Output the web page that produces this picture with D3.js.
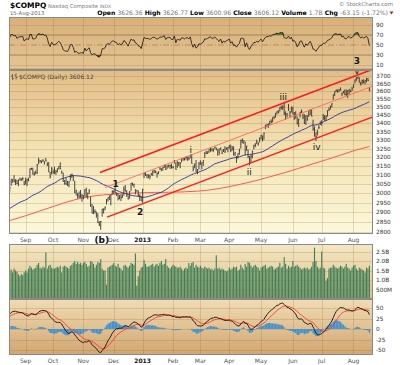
<!DOCTYPE html>
<html>
<head>
<meta charset="utf-8">
<script src="https://cdn.jsdelivr.net/npm/d3@7"></script>
<style>
body { margin: 0; background: #fff; }
svg { display: block; font-family: 'DejaVu Sans', Verdana, sans-serif; }
</style>
</head>
<body>
<svg id="chart" width="400" height="365"></svg>
<script>
// trading calendar 16-Aug-2012 .. 15-Aug-2013
var firstDay = '2012-08-16', lastDay = '2013-08-15';
var holidays = ['2012-09-03', '2012-10-29', '2012-10-30', '2012-11-22', '2012-12-25',
  '2013-01-01', '2013-01-21', '2013-02-18', '2013-03-29', '2013-05-27', '2013-07-04'];
var monthLabels = ['Sep', 'Oct', 'Nov', 'Dec', '2013', 'Feb', 'Mar', 'Apr', 'May', 'Jun', 'Jul', 'Aug'];

// Jun 1 - Aug 15 2012, only used so the indicators are warmed up
var preCloses = [2747, 2760, 2779, 2844, 2831, 2859, 2809, 2843, 2819, 2836, 2873, 2895, 2929, 2930, 2859, 2892, 2836, 2854, 2875, 2850, 2935,
  2951, 2977, 2976, 2937, 2931, 2902, 2887, 2867, 2909, 2897, 2910, 2943, 2965, 2925, 2891, 2862, 2854, 2894, 2958, 2946, 2940,
  2920, 2910, 2968, 2990, 3016, 3011, 3019, 3021, 3022, 3017, 3030];

var closes = [3031, 3077, 3076, 3067, 3074, 3053, 3070, 3073, 3077, 3081, 3049, 3067,
  3075, 3069, 3136, 3136, 3104, 3105, 3114, 3156, 3184, 3179, 3178, 3183, 3176, 3180, 3161, 3118, 3094, 3137, 3116,
  3114, 3120, 3135, 3149, 3136, 3112, 3065, 3052, 3049, 3044, 3064, 3101, 3104, 3073, 3006, 3017, 2990, 2982, 2986, 2988, 2977,
  3020, 2982, 3000, 3012, 2937, 2896, 2905, 2904, 2884, 2847, 2837, 2853, 2916, 2917, 2927, 2967, 2977, 2968, 2992, 3012, 3010,
  3002, 2997, 2974, 2989, 2978, 2987, 3022, 3014, 2992, 2971, 3011, 3055, 3044, 3050, 3021, 3013, 2990, 2986, 2960, 3020,
  3112, 3101, 3102, 3099, 3092, 3106, 3122, 3126, 3118, 3111, 3118, 3136, 3135, 3143, 3154, 3130, 3150, 3154, 3154, 3142, 3142,
  3179, 3131, 3172, 3168, 3165, 3194, 3192, 3186, 3197, 3199, 3192, 3214, 3164, 3131, 3162, 3116, 3130, 3162, 3160,
  3170, 3182, 3224, 3222, 3232, 3244, 3253, 3242, 3245, 3259, 3249, 3238, 3229, 3254, 3223, 3245, 3235, 3252, 3257, 3268,
  3239, 3252, 3219, 3225, 3204, 3222, 3238, 3297, 3300, 3295, 3216, 3265, 3205, 3166, 3206, 3234, 3269, 3270, 3290, 3279, 3307, 3329,
  3299, 3341, 3379, 3393, 3397, 3413, 3409, 3437, 3439, 3463, 3472, 3465, 3499, 3496, 3502, 3463, 3459, 3459, 3489, 3468, 3491, 3456,
  3465, 3445, 3401, 3424, 3469, 3474, 3437, 3400, 3445, 3424, 3452, 3482, 3443, 3365, 3357, 3321, 3348, 3376, 3402, 3403,
  3434, 3433, 3444, 3479, 3485, 3504, 3521, 3578, 3600, 3607, 3598, 3610, 3611, 3588, 3600, 3580, 3579, 3605, 3613, 3599, 3616, 3626,
  3676, 3690, 3693, 3666, 3654, 3669, 3660, 3670, 3684, 3669, 3606];

var highs = [3036, 3077, 3077, 3099, 3076, 3073, 3076, 3086, 3082, 3088, 3068, 3086,
  3079, 3086, 3136, 3141, 3141, 3119, 3125, 3162, 3197, 3184, 3181, 3189, 3177, 3196, 3172, 3173, 3117, 3145, 3131,
  3146, 3128, 3137, 3150, 3171, 3125, 3113, 3073, 3083, 3068, 3065, 3102, 3107, 3100, 3068, 3019, 3003, 3010, 3018, 2997, 2991,
  3022, 3031, 3004, 3023, 2982, 2944, 2933, 2916, 2904, 2896, 2855, 2856, 2918, 2921, 2931, 2969, 2978, 2990, 2993, 3016, 3016,
  3033, 3006, 3003, 2991, 2995, 2995, 3038, 3045, 3017, 2989, 3012, 3056, 3058, 3051, 3022, 3018, 3016, 2995, 2985, 3025,
  3112, 3115, 3104, 3104, 3102, 3112, 3125, 3126, 3126, 3113, 3120, 3146, 3136, 3145, 3157, 3160, 3153, 3158, 3157, 3164, 3151,
  3184, 3171, 3178, 3173, 3172, 3194, 3196, 3198, 3207, 3200, 3204, 3214, 3218, 3153, 3164, 3184, 3133, 3173, 3183,
  3172, 3183, 3229, 3238, 3234, 3245, 3254, 3252, 3250, 3260, 3256, 3246, 3252, 3255, 3243, 3248, 3264, 3257, 3259, 3270,
  3273, 3265, 3263, 3229, 3206, 3222, 3250, 3302, 3310, 3298, 3291, 3266, 3245, 3207, 3213, 3238, 3272, 3282, 3302, 3287, 3316, 3331,
  3327, 3344, 3392, 3394, 3398, 3414, 3424, 3437, 3443, 3463, 3473, 3481, 3499, 3509, 3511, 3533, 3474, 3461, 3520, 3476, 3504, 3503,
  3469, 3474, 3441, 3428, 3470, 3485, 3460, 3456, 3449, 3450, 3476, 3487, 3488, 3422, 3381, 3346, 3362, 3389, 3412, 3420,
  3458, 3451, 3448, 3480, 3499, 3509, 3523, 3579, 3600, 3610, 3613, 3614, 3625, 3592, 3602, 3612, 3612, 3607, 3614, 3611, 3630, 3647,
  3676, 3690, 3694, 3692, 3662, 3676, 3678, 3671, 3687, 3687, 3627];

var lows = [3006, 3041, 3057, 3060, 3045, 3050, 3039, 3072, 3067, 3070, 3044, 3048,
  3039, 3066, 3083, 3128, 3103, 3097, 3104, 3106, 3160, 3169, 3166, 3174, 3158, 3177, 3150, 3116, 3081, 3103, 3107,
  3105, 3101, 3115, 3131, 3132, 3108, 3063, 3047, 3048, 3041, 3033, 3068, 3084, 3066, 3001, 2989, 2972, 2975, 2976, 2956, 2969,
  2982, 2981, 2969, 2997, 2928, 2895, 2891, 2894, 2872, 2845, 2830, 2811, 2878, 2894, 2911, 2941, 2956, 2966, 2937, 2995, 2996,
  3001, 2986, 2962, 2968, 2959, 2975, 2988, 3010, 2982, 2967, 2972, 3014, 3043, 3031, 2995, 3009, 2983, 2959, 2960, 2950,
  3083, 3095, 3082, 3082, 3076, 3097, 3095, 3110, 3110, 3085, 3104, 3128, 3121, 3124, 3140, 3128, 3134, 3142, 3134, 3136, 3136,
  3164, 3130, 3140, 3150, 3138, 3171, 3180, 3182, 3187, 3180, 3183, 3194, 3164, 3120, 3138, 3116, 3105, 3131, 3158,
  3132, 3151, 3195, 3218, 3219, 3225, 3232, 3233, 3232, 3248, 3240, 3209, 3212, 3241, 3218, 3230, 3224, 3242, 3228, 3250,
  3230, 3238, 3210, 3206, 3168, 3192, 3214, 3250, 3281, 3278, 3216, 3236, 3194, 3154, 3170, 3194, 3245, 3258, 3276, 3267, 3286, 3303,
  3293, 3302, 3365, 3377, 3372, 3390, 3400, 3406, 3425, 3435, 3454, 3462, 3472, 3485, 3483, 3450, 3421, 3436, 3476, 3438, 3466, 3455,
  3421, 3428, 3393, 3378, 3436, 3463, 3426, 3397, 3390, 3415, 3439, 3451, 3443, 3355, 3320, 3294, 3327, 3365, 3390, 3386,
  3420, 3415, 3416, 3441, 3475, 3485, 3498, 3547, 3570, 3596, 3591, 3596, 3605, 3569, 3586, 3575, 3570, 3557, 3580, 3594, 3603, 3624,
  3651, 3666, 3680, 3655, 3637, 3645, 3652, 3645, 3659, 3667, 3601];

// volume in units of 10M shares
var volumes = [150, 155, 140, 160, 150, 145, 130, 120, 130, 125, 140, 150,
  140, 160, 175, 165, 155, 160, 165, 180, 190, 165, 160, 170, 165, 245, 160, 175, 180, 165, 160,
  160, 165, 170, 165, 175, 140, 170, 175, 170, 165, 160, 175, 180, 190, 200, 185, 195, 185, 190, 180, 190,
  195, 185, 170, 175, 200, 195, 185, 165, 180, 195, 190, 210, 160, 150, 150, 75, 165, 170, 175, 180, 190,
  175, 170, 185, 165, 160, 150, 175, 180, 170, 165, 175, 190, 185, 180, 240, 70, 120, 150, 165, 170,
  205, 185, 170, 170, 175, 180, 185, 170, 180, 185, 175, 190, 200, 180, 185, 210, 175, 165, 160, 170, 180,
  175, 170, 165, 165, 170, 160, 150, 160, 165, 160, 190, 175, 190, 195, 165, 180, 170, 165, 175,
  165, 160, 170, 165, 160, 165, 155, 160, 150, 160, 230, 160, 165, 155, 160, 155, 150, 145, 150, 165,
  155, 160, 170, 165, 170, 150, 155, 180, 165, 155, 185, 170, 195, 190, 175, 165, 175, 180, 170, 165, 150, 165,
  170, 175, 180, 160, 165, 170, 175, 170, 155, 160, 165, 170, 190, 165, 170, 220, 185, 160, 175, 165, 170, 200,
  170, 175, 180, 170, 165, 155, 160, 165, 160, 165, 155, 160, 170, 195, 270, 200, 170, 160, 165, 250,
  165, 160, 95, 110, 160, 165, 165, 180, 170, 165, 160, 165, 175, 170, 160, 170, 185, 165, 160, 150, 165, 175,
  180, 160, 150, 165, 160, 155, 150, 140, 165, 160, 175];

// 200-day MA every 10th bar
var sma200Idx = [0, 10, 20, 30, 40, 50, 60, 70, 80, 90, 100, 110, 120, 130, 140, 150, 160, 170, 180, 190, 200, 210, 220, 230, 240, 249];
var sma200 = [2858, 2880, 2905, 2930, 2955, 2975, 2988, 2995, 3000, 3003, 3005, 3006, 3008, 3012, 3020, 3033, 3050, 3068, 3090, 3112, 3137, 3163, 3188, 3215, 3242, 3262];

// hand drawn channel: [bar index, price] at each end
var channels = [
  {a: [62.5, 3114], b: [251.4, 3745], w: 1.4, c: '#ff1a1a'},
  {a: [66, 3031], b: [251.4, 3634], w: 0.9, c: '#ff6a5a'},
  {a: [67.4, 2875], b: [251.4, 3440], w: 1.4, c: '#ff1a1a'}
];

var waves = [
  {t: '1', i: 73.4, p: 3052, bold: true},
  {t: '2', i: 90.2, p: 2904, bold: true},
  {t: 'i', i: 125.3, p: 3244},
  {t: 'ii', i: 165.8, p: 3120},
  {t: 'iii', i: 189.4, p: 3563},
  {t: 'iv', i: 212.5, p: 3263},
  {t: '3', i: 240.4, p: 3799, bold: true},
  {t: 'v', i: 240.4, p: 3738}
];

var priceTicks = [2800, 2850, 2900, 2950, 3000, 3050, 3100, 3150, 3200, 3250, 3300, 3350, 3400, 3450, 3500, 3550, 3600, 3650, 3700];
var rsiTicks = [10, 30, 50, 70, 90];
var volTicks = [5e8, 1e9, 1.5e9, 2e9, 2.5e9];
var volTickLabels = ['500M', '1.0B', '1.5B', '2.0B', '2.5B'];
var macdTicks = [-50, -25, 0, 25, 50];

// ---------- build trading days ----------
var fmt = d3.timeFormat('%Y-%m-%d');
var days = [];
d3.timeDays(new Date(firstDay + 'T12:00'), new Date(lastDay + 'T13:00')).forEach(function(d) {
  if (d.getDay() === 0 || d.getDay() === 6) return;
  if (holidays.indexOf(fmt(d)) >= 0) return;
  days.push(d);
});

var monthStarts = [];
days.forEach(function(d, i) {
  if (i > 0 && d.getMonth() !== days[i - 1].getMonth()) monthStarts.push(i);
});

// ---------- indicators ----------
var all = preCloses.concat(closes);
var off = preCloses.length;

function ema(arr, n) {
  var k = 2 / (n + 1), prev, out = [];
  arr.forEach(function(v, i) {
    prev = i === 0 ? v : v * k + prev * (1 - k);
    out.push(prev);
  });
  return out;
}
var e12 = ema(all, 12), e26 = ema(all, 26);
var macdAll = all.map(function(c, i) { return e12[i] - e26[i]; });
var sigAll = ema(macdAll, 9);

var rsiAll = [], ag = 0, al = 0;
for (var k = 1; k < all.length; k++) {
  var ch = all[k] - all[k - 1];
  var up = Math.max(ch, 0), dn = Math.max(-ch, 0);
  if (k <= 14) { ag += up / 14; al += dn / 14; }
  else { ag = (ag * 13 + up) / 14; al = (al * 13 + dn) / 14; }
  rsiAll[k] = 100 - 100 / (1 + ag / al);
}

var bars = closes.map(function(c, i) {
  var j = off + i;
  return {
    i: i, c: c, h: highs[i], l: lows[i], v: volumes[i] * 1e7,
    rsi: rsiAll[j], macd: macdAll[j], sig: sigAll[j], hist: macdAll[j] - sigAll[j],
    sma50: d3.mean(all.slice(j - 49, j + 1))
  };
});

// ---------- scales ----------
var left = 9, right = 373;
var x = d3.scaleLinear().domain([-0.5, 251.5]).range([left, right]);
var yPrice = d3.scaleLog().domain([2800, 3700]).range([232, 76]);
var yRsi = d3.scaleLinear().domain([0, 100]).range([70, 20]);
var yVol = d3.scaleLinear().domain([0, 2.5e9]).range([299, 251.5]);
var yMacd = d3.scaleLinear().domain([-50, 50]).range([350, 308]);

var panels = {
  rsi: {top: 17, bottom: 70, grad: ['#d8b07a', '#e4c593']},
  price: {top: 70, bottom: 234, grad: ['#e2bd86', '#f4e4b6', '#fbf8da']},
  vol: {top: 244, bottom: 299, grad: ['#f4e7c2', '#dcbf8d']},
  macd: {top: 299, bottom: 355, grad: ['#f0ddb4', '#d2a571']}
};

var svg = d3.select('#chart');
var defs = svg.append('defs');
var gridColor = 'rgba(140,105,50,0.22)';

Object.keys(panels).forEach(function(key) {
  var p = panels[key];
  var grad = defs.append('linearGradient')
    .attr('id', 'bg-' + key)
    .attr('x1', 0).attr('x2', 0).attr('y1', 0).attr('y2', 1);
  p.grad.forEach(function(col, n) {
    grad.append('stop')
      .attr('offset', (n / (p.grad.length - 1) * 100) + '%')
      .attr('stop-color', col);
  });
  svg.append('rect')
    .attr('x', left).attr('y', p.top)
    .attr('width', right - left).attr('height', p.bottom - p.top)
    .style('fill', 'url(#bg-' + key + ')');
  p.g = svg.append('g');
  p.g.selectAll('.vgrid')
    .data(monthStarts)
    .enter()
    .append('line')
    .attr('x1', function(d) { return Math.round(x(d)) + 0.5; })
    .attr('x2', function(d) { return Math.round(x(d)) + 0.5; })
    .attr('y1', p.top).attr('y2', p.bottom)
    .style('stroke', gridColor)
    .style('stroke-width', 1);
});

function hgrid(p, ticks, scale) {
  p.g.selectAll(null)
    .data(ticks)
    .enter()
    .append('line')
    .attr('x1', left).attr('x2', right)
    .attr('y1', function(d) { return Math.round(scale(d)) + 0.5; })
    .attr('y2', function(d) { return Math.round(scale(d)) + 0.5; })
    .style('stroke', gridColor);
}

function rightLabels(ticks, scale, labels) {
  svg.append('g').selectAll('text')
    .data(ticks)
    .enter()
    .append('text')
    .attr('x', 376)
    .attr('y', function(d) { return scale(d) + 2; })
    .style('font-size', '5.8px')
    .style('fill', '#333')
    .text(function(d, n) { return labels ? labels[n] : d; });
}

// ---------- RSI ----------
var pr = panels.rsi;
hgrid(pr, [10, 90], yRsi);
pr.g.selectAll(null)
  .data([70, 30])
  .enter()
  .append('line')
  .attr('x1', left).attr('x2', right)
  .attr('y1', function(d) { return yRsi(d); })
  .attr('y2', function(d) { return yRsi(d); })
  .style('stroke', '#9a8050')
  .style('stroke-width', 0.9);
pr.g.append('line')
  .attr('x1', left).attr('x2', right)
  .attr('y1', yRsi(50)).attr('y2', yRsi(50))
  .style('stroke', '#9a8050')
  .style('stroke-width', 0.7)
  .style('stroke-dasharray', '6,2,1,2');

pr.g.append('path')
  .datum(bars)
  .attr('d', d3.area()
    .x(function(d) { return x(d.i); })
    .y0(yRsi(70))
    .y1(function(d) { return yRsi(Math.max(d.rsi, 70)); }))
  .style('fill', '#4f7a2e');
pr.g.append('path')
  .datum(bars)
  .attr('d', d3.area()
    .x(function(d) { return x(d.i); })
    .y0(yRsi(30))
    .y1(function(d) { return yRsi(Math.min(d.rsi, 30)); }))
  .style('fill', '#a0281c');
pr.g.append('path')
  .datum(bars)
  .attr('d', d3.line()
    .x(function(d) { return x(d.i); })
    .y(function(d) { return yRsi(d.rsi); }))
  .style('fill', 'none')
  .style('stroke', '#111')
  .style('stroke-width', 0.8);
rightLabels(rsiTicks, yRsi);

// ---------- price ----------
var pp = panels.price;
hgrid(pp, priceTicks.concat([3750]), yPrice);

pp.g.append('path')
  .datum(sma200)
  .attr('d', d3.line()
    .curve(d3.curveMonotoneX)
    .x(function(d, n) { return x(sma200Idx[n]); })
    .y(function(d) { return yPrice(d); }))
  .style('fill', 'none')
  .style('stroke', '#ff5a4a')
  .style('stroke-width', 1);

pp.g.append('path')
  .datum(bars)
  .attr('d', d3.line()
    .x(function(d) { return x(d.i); })
    .y(function(d) { return yPrice(d.sma50); }))
  .style('fill', 'none')
  .style('stroke', '#3b3c9e')
  .style('stroke-width', 1);

pp.g.selectAll('.hl')
  .data(bars)
  .enter()
  .append('line')
  .attr('class', 'hl')
  .attr('x1', function(d) { return x(d.i); })
  .attr('x2', function(d) { return x(d.i); })
  .attr('y1', function(d) { return yPrice(d.h); })
  .attr('y2', function(d) { return yPrice(d.l); })
  .style('stroke', '#333')
  .style('stroke-width', 0.9);

pp.g.selectAll('.cl')
  .data(bars)
  .enter()
  .append('line')
  .attr('class', 'cl')
  .attr('x1', function(d) { return x(d.i); })
  .attr('x2', function(d) { return x(d.i) + 0.8; })
  .attr('y1', function(d) { return yPrice(d.c); })
  .attr('y2', function(d) { return yPrice(d.c); })
  .style('stroke', '#333')
  .style('stroke-width', 0.8);

svg.selectAll('.channel')
  .data(channels)
  .enter()
  .append('line')
  .attr('x1', function(d) { return x(d.a[0]); })
  .attr('y1', function(d) { return yPrice(d.a[1]); })
  .attr('x2', function(d) { return x(d.b[0]); })
  .attr('y2', function(d) { return yPrice(d.b[1]); })
  .style('stroke', function(d) { return d.c; })
  .style('stroke-width', function(d) { return d.w; });

// legend text in the price panel
var leg = svg.append('g');
leg.append('path')
  .attr('d', 'M12.5,74V80M11,76H12.5M12.5,78.5H14M16,73.5V79.5M14.5,75H16M16,77.5H17.5')
  .style('stroke', '#555')
  .style('stroke-width', 0.8)
  .style('fill', 'none');
leg.append('text')
  .attr('x', 19).attr('y', 79)
  .style('font-size', '6px')
  .style('fill', '#444')
  .text('$COMPQ (Daily) 3606.12');

rightLabels(priceTicks, yPrice);

// wave counts
svg.selectAll('.wave')
  .data(waves)
  .enter()
  .append('text')
  .attr('x', function(d) { return x(d.i); })
  .attr('y', function(d) { return yPrice(d.p); })
  .attr('dy', '0.36em')
  .style('text-anchor', 'middle')
  .style('font-size', '9px')
  .style('font-weight', function(d) { return d.bold ? 'bold' : 'normal'; })
  .style('fill', '#1a1a1a')
  .text(function(d) { return d.t; });

// ---------- date labels ----------
function dateLabels(yPos) {
  svg.append('g').selectAll('text')
    .data(monthStarts)
    .enter()
    .append('text')
    .attr('x', function(d) { return x(d); })
    .attr('y', yPos)
    .style('text-anchor', 'middle')
    .style('font-size', '6px')
    .style('font-weight', function(d, n) { return monthLabels[n] === '2013' ? 'bold' : 'normal'; })
    .style('fill', function(d, n) { return monthLabels[n] === '2013' ? '#111' : '#555'; })
    .text(function(d, n) { return monthLabels[n]; });
}
dateLabels(241.5);
dateLabels(362.5);

svg.append('text')
  .attr('x', x(63.7)).attr('y', 242.5)
  .style('text-anchor', 'middle')
  .style('font-size', '9px')
  .style('font-weight', 'bold')
  .style('fill', '#111')
  .text('(b)');

// ---------- volume ----------
var pv = panels.vol;
hgrid(pv, volTicks, yVol);
pv.g.selectAll('.vol')
  .data(bars)
  .enter()
  .append('rect')
  .attr('x', function(d) { return x(d.i) - 0.55; })
  .attr('width', 1.1)
  .attr('y', function(d) { return Math.max(yVol(d.v), pv.top); })
  .attr('height', function(d) { return yVol(0) - Math.max(yVol(d.v), pv.top); })
  .style('fill', '#3f7f56');
rightLabels(volTicks, yVol, volTickLabels);

// ---------- MACD ----------
var pm = panels.macd;
hgrid(pm, macdTicks, yMacd);
pm.g.selectAll('.hist')
  .data(bars)
  .enter()
  .append('rect')
  .attr('x', function(d) { return x(d.i) - 0.72; })
  .attr('width', 1.45)
  .attr('y', function(d) { return Math.min(yMacd(d.hist), yMacd(0)); })
  .attr('height', function(d) { return Math.abs(yMacd(d.hist) - yMacd(0)); })
  .style('fill', '#3f93d0');
pm.g.append('path')
  .datum(bars)
  .attr('d', d3.line()
    .x(function(d) { return x(d.i); })
    .y(function(d) { return yMacd(d.sig); }))
  .style('fill', 'none')
  .style('stroke', '#ff3a2a')
  .style('stroke-width', 0.9);
pm.g.append('path')
  .datum(bars)
  .attr('d', d3.line()
    .x(function(d) { return x(d.i); })
    .y(function(d) { return yMacd(d.macd); }))
  .style('fill', 'none')
  .style('stroke', '#111')
  .style('stroke-width', 0.9);
rightLabels(macdTicks, yMacd);

// panel borders
Object.keys(panels).forEach(function(key) {
  var p = panels[key];
  svg.append('rect')
    .attr('x', left + 0.5).attr('y', p.top + 0.5)
    .attr('width', right - left - 1).attr('height', p.bottom - p.top - 1)
    .style('fill', 'none')
    .style('stroke', '#8a8a8a')
    .style('stroke-width', 1);
});

// ---------- header ----------
var t1 = svg.append('text').attr('x', 10).attr('y', 8);
t1.append('tspan').style('font-size', '7.5px').style('font-weight', 'bold').style('fill', '#000').text('$COMPQ');
t1.append('tspan').style('font-size', '5.3px').style('fill', '#777').text(' Nasdaq Composite ');
t1.append('tspan').style('font-size', '4.6px').style('fill', '#777').text('INDX');

svg.append('text')
  .attr('x', 10).attr('y', 15)
  .style('font-size', '5.3px')
  .style('fill', '#666')
  .text('15-Aug-2013');

svg.append('text')
  .attr('x', 393).attr('y', 6)
  .style('text-anchor', 'end')
  .style('font-size', '5.5px')
  .style('fill', '#777')
  .text('\u00a9 StockCharts.com');

var quote = [['Open', '3626.36'], ['High', '3626.77'], ['Low', '3600.96'], ['Close', '3606.12'],
  ['Volume', '1.7B'], ['Chg', '-63.15 (-1.72%)']];
var t2 = svg.append('text')
  .attr('x', 388).attr('y', 15)
  .style('text-anchor', 'end')
  .style('font-size', '6.1px');
quote.forEach(function(q, n) {
  t2.append('tspan').style('font-weight', 'bold').style('fill', '#000').text((n ? ' ' : '') + q[0] + ' ');
  t2.append('tspan').style('fill', '#777').text(q[1]);
});
svg.append('path')
  .attr('d', 'M389.5,11.5L393.5,11.5L391.5,14.5Z')
  .style('fill', '#d01010');
</script>
</body>
</html>
